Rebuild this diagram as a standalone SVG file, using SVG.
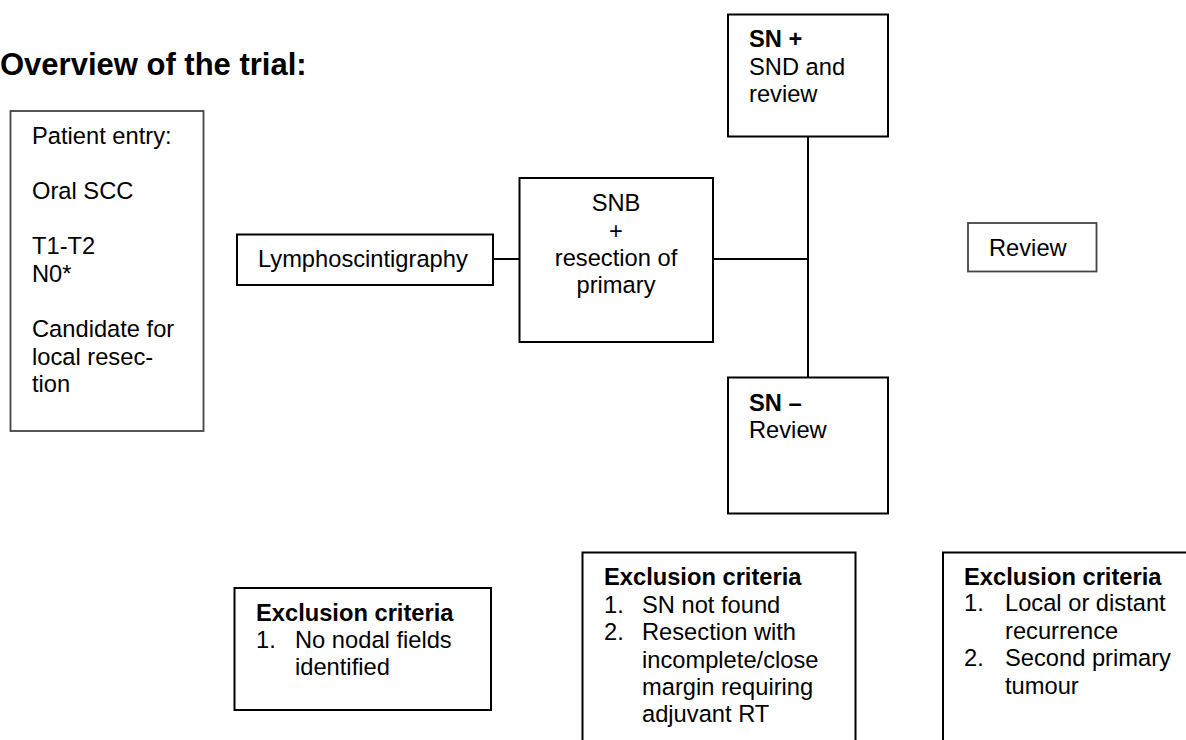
<svg xmlns="http://www.w3.org/2000/svg" width="1186" height="740" viewBox="0 0 1186 740">
<style>
text{font-family:"Liberation Sans",Arial,sans-serif;font-size:23.7px;fill:#000}
.b{font-weight:bold}
.t{font-size:31px;font-weight:bold}
.box{fill:#fff;stroke:#000;stroke-width:2}
.gbox{fill:#fff;stroke:#444;stroke-width:1.8}
.c{fill:none;stroke:#000;stroke-width:2}
.m{text-anchor:middle}
</style>
<rect width="1186" height="740" fill="#fff"/>
<text class="t" x="0" y="75">Overview of the trial:</text>
<g id="connectors">
<line class="c" x1="493" y1="259" x2="519" y2="259"/>
<line class="c" x1="713" y1="259" x2="808" y2="259"/>
<line class="c" x1="808" y1="136" x2="808" y2="378"/>
</g>
<g id="patient-entry">
<rect class="gbox" x="10.5" y="111" width="193" height="320"/>
<text x="32" y="144">Patient entry:</text>
<text x="32" y="199">Oral SCC</text>
<text x="32" y="254">T1-T2</text>
<text x="32" y="281.5">N0*</text>
<text x="32" y="337">Candidate for</text>
<text x="32" y="364.5">local resec-</text>
<text x="32" y="392">tion</text>
</g>
<g id="lymphoscintigraphy">
<rect class="box" x="237" y="234.5" width="256" height="50.5"/>
<text x="258" y="267">Lymphoscintigraphy</text>
</g>
<g id="snb">
<rect class="box" x="519.5" y="178" width="193.5" height="164"/>
<text class="m" x="616" y="211">SNB</text>
<text class="m" x="616" y="238.5">+</text>
<text class="m" x="616" y="266">resection of</text>
<text class="m" x="616" y="293">primary</text>
</g>
<g id="sn-pos">
<rect class="box" x="728" y="14.5" width="160" height="122"/>
<text class="b" x="749" y="47">SN +</text>
<text x="749" y="75">SND and</text>
<text x="749" y="102">review</text>
</g>
<g id="sn-neg">
<rect class="box" x="728" y="377.5" width="160" height="136"/>
<text class="b" x="749" y="411">SN –</text>
<text x="749" y="438">Review</text>
</g>
<g id="review">
<rect class="gbox" x="968" y="223" width="128.5" height="48.5"/>
<text x="989" y="256">Review</text>
</g>
<g id="exclusion-1">
<rect class="box" x="234.5" y="588" width="256.5" height="122"/>
<text class="b" x="256" y="621">Exclusion criteria</text>
<text x="256" y="648">1.</text>
<text x="295" y="648">No nodal fields</text>
<text x="295" y="675">identified</text>
</g>
<g id="exclusion-2">
<path class="c" d="M582.5,742 V552.5 H855.5 V742"/>
<text class="b" x="604" y="585">Exclusion criteria</text>
<text x="604" y="612.5">1.</text>
<text x="642" y="612.5">SN not found</text>
<text x="604" y="640">2.</text>
<text x="642" y="640">Resection with</text>
<text x="642" y="667.5">incomplete/close</text>
<text x="642" y="695">margin requiring</text>
<text x="642" y="722">adjuvant RT</text>
</g>
<g id="exclusion-3">
<path class="c" d="M943,742 V552.5 H1188"/>
<text class="b" x="964" y="585">Exclusion criteria</text>
<text x="964" y="611">1.</text>
<text x="1005" y="611">Local or distant</text>
<text x="1005" y="638.5">recurrence</text>
<text x="964" y="666">2.</text>
<text x="1005" y="666">Second primary</text>
<text x="1005" y="693.5">tumour</text>
</g>
</svg>
